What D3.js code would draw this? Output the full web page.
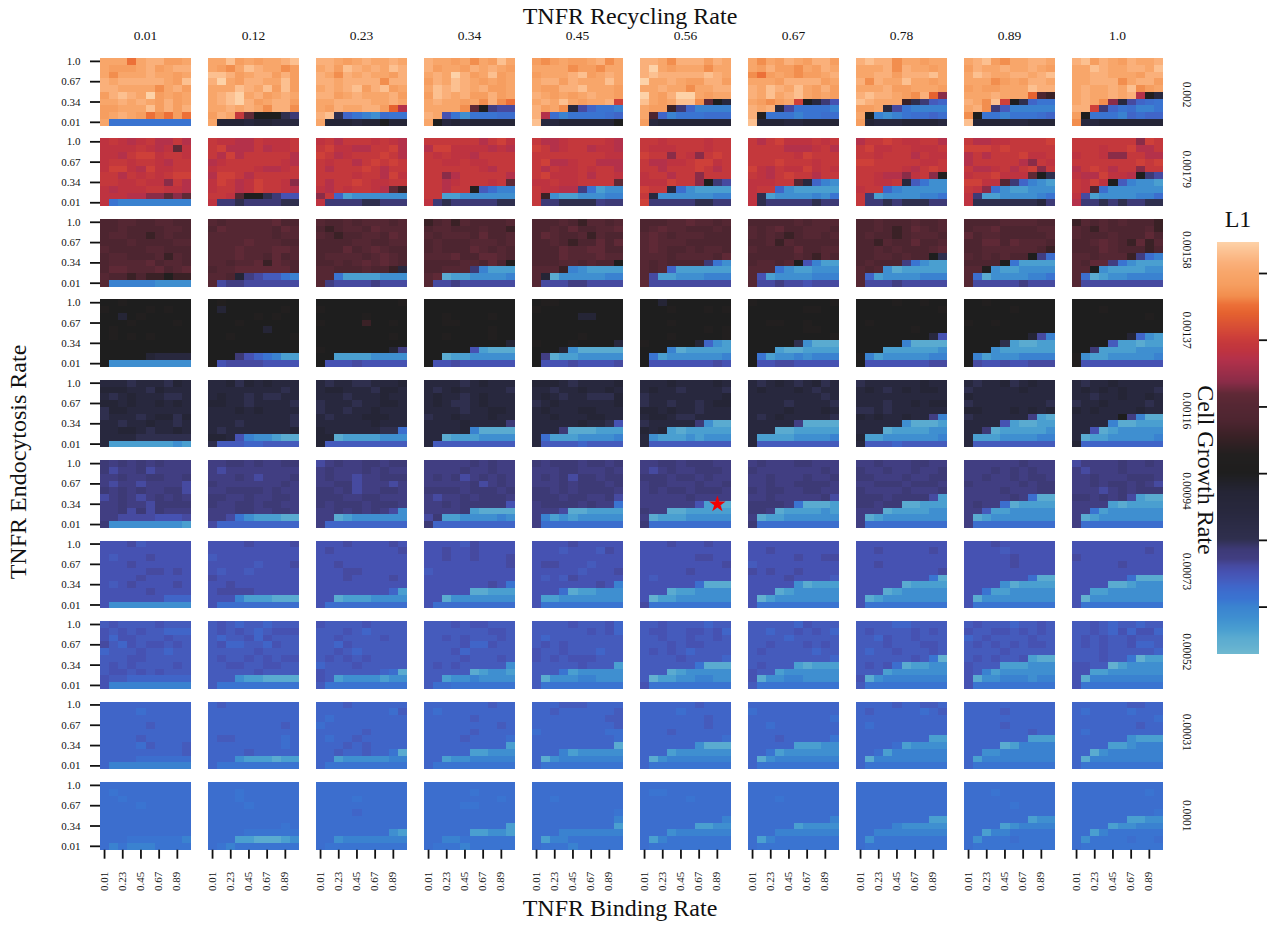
<!DOCTYPE html>
<html><head><meta charset="utf-8">
<script src="https://cdn.jsdelivr.net/npm/d3@7"></script>
<style>html,body{margin:0;background:#fff}svg{display:block}text{font-family:"Liberation Serif","Times New Roman",serif;fill:#111}</style>
</head><body><svg id="c" width="1267" height="927"></svg>
<script>
const recyclingRates=["0.01","0.12","0.23","0.34","0.45","0.56","0.67","0.78","0.89","1.0"];
const endocytosisRates=["0.002","0.00179","0.00158","0.00137","0.00116","0.00094","0.00073","0.00052","0.00031","0.0001"];
const yTickLabels=["1.0","0.67","0.34","0.01"], yTickCells=[0,3,6,9];
const xTickLabels=["0.01","0.23","0.45","0.67","0.89"], xTickCells=[0,2,4,6,8];
const bestFit={recycling:5,endocytosis:5,binding:8,row:6};
// Each cell is one base-36 colour level (0 = pale blue ... h = black ... z = pale peach), top row first.
const growthA=[
"wwwtwxxvvw wvvvwxvwxx wuwwwxwwvw xwxxxxxwvy xxwwwwuwxv vxyxwzvwvw wwxwxwvxvw vvwwwyvxvx vwxwvtutvt w666666666",
"wwyvwvwwxy wvuwyxwwuv yyxvwxxvxv xzwvxxwwyv wwwyxwyvyv wxyzwxvwxw wxyzxvwxxv wwxwxwuxxu vxwqmhhhed wgggfggfff",
"xxwvwxwwxw wxvyxwxwyx xwuxwxwwvx xxwxxxxuxx wxwxyvxyvw xxvwxwwwxv wwxxxxwwxw wvxwwxxvso xye8654766 wgggfgghgg",
"xwwvwuwvyw xvwwvxwxwv wxwzxvwyvw vxwyxwvwvw wyxyxwxvvw vyxwxvvxvw wxwwvwuxut wwwwumhcbb xwa6466677 whfgfggggg",
"vuvwvvwxuw wwwwuvvuww vwwwxyvwxw wxxvxwwwyw wvvxxywwwv xwvwvwxwwv wxwywvwwxr xvwufb8665 xo75666678 yffggggggh",
"xxwuxxxvxw xzwvwwwuww xyxxxxxyxw zwwxwvvxxv wwxwwuwwxx zwvxzzwvww ywvwyyumhf wvvjd85555 wk85666777 vfgggggggg",
"wuwvxwvxxv wvxvvuwvxw utvwvuvvwx wwwvxxxxvw xwyxwywvxv xwywxywvwv wvuvwrhfda xwxfb66665 xi66656677 ygggffgggg",
"xyxxuwwvww wwwxuxwwvw wwxxvxxxyw xuxwwywwvw wwwxvvwwwv xyxxwvuxsn yxwwwjed98 vvwfb65555 wh54567787 vgfffggggf",
"wxyvuwwxxw vxwwxwwxwv wyxwwxxwxy wwwuvwvxxw vwvvwwwyxx wwwxwwwskj xwuyrhe866 wxud955555 uh66566678 yggggffggg",
"xyvxwvxwwx wwyxwwxxwy wwxxwwwvxx wwxxxuwxxv wxwwxwyuvw wxwwxwxoif wxwunfb876 xxrd867556 vh66658788 uffggggggg"];
const growthB=[
"pqpopqooqo ppppqpopmp ppoqrrpqqp pqqpqqpoqq prrporppqq qqoqpqpqrr qqppqppnqo popppqqppo pppoonnmnm p655555555",
"qppooqpppq qroooqoppq qoroqqqqqo opqqqqqqpo pqqqqpoopq orrqoqqqqq prqoprqqpn pqqoprqqpo qqplhhedaa pddeddddee",
"pqoqqqpqpo qrppooqqro rqopqqqrqo qpqqoqrqrq qoqqqrqoqq qqqqpqqorp qoqqrqppqq poqpqqpomj nq83444444 pddddeeddd",
"qqqqqqoqrp orrppppopo qpqppoqqqq qqppqppqqq qqqqqqpoqq qqnoqqqqqo qqopqqqpqm qqoqqi9755 qq33444444 pdedddddee",
"qoopqqqqpo rqopqqoppo qqqqqqqqpp qroopqqooo qoqppqpqqo qrpppqoqqp ppqppqqqqm qppooc6344 qj43344455 qddeeeecdd",
"qqpqqqqpqq qpppqqqpqq rqqnqpnqrq qooppqrrpq qqoqqqrqoq pqqoqqnqqq ppprqqnhdb rqqf743333 qf44444455 rdddddeedd",
"qoqrpppqpq qqqqooopqo qqqqqprqqq qqqrqqqpqq rpoqpprpqp qpoqrqqoqq pppqqlf854 pqq8433333 pe34444546 pedddddedd",
"oqqrqppqqo qrppqqpppq qqpqqqoqpp rrqqqqqppq qqqqqpoqrq qqpoonpqni qqppqf9644 pqq8544444 qd34444556 qddedeeedd",
"qooppqqqqr rrrqrqqqqq oqoqqqrppq oqqqqqonqp qoopqoqrnq pqqrpppmhe rrppld8543 qpn7433444 pd33444456 peeeeeeefd",
"qqqqqqqnrq qqqpqqrooq pqqpnnqqoo qqqqqqqrqr oqrqoqqnqq poorppohdb qprph95443 qpk7444444 pb34444557 oddededdee"];
const growthC=[
"kkllkkllkk kklkkkkllk kllkkjklkk kkklkkkkll lkkkkllkkk kllkkkljlk kllllmkllk kmmlllmklm lkkjkjjijj l555554444",
"lklllllmkk kmlllllkml lllllllkll llllmlllkk lllmlllmml lllmllkmkl llkllmjmlk kllmmmmmmk llkgcb9965 lbccbbbbbb",
"lkklklllkl kjkllkmlll lkjkkllkml kkkkllkkll kkkmklmlkk kllllklmlk kklklmlmlk llkkklkkjf ll63333444 lcbbbbcbbb",
"jkljlkkkkl kllkkklkkj lklllkmkkl klkkklllkl klkkkmlklk lllmkkmmlk kkkkllkmki kkllld5333 lm23344445 lbbcbbbbbb",
"kkklkjllkl kklkmkkllm kmlkkljlkk kklkjkkmkm kkkmllmmkk kkkmlllmll kkkllklkkh lllj543333 lg24444455 lbbbccbbbb",
"kkkllmllkl klmllkkklk lmlklllkkk lmlllkkkkk lmlkklkllk lllkllllkm lklkkkkd64 lkl8333333 lb33444555 mbbbbbbbbb",
"kkkkklklll lklmkklllk lklkjkllkl kkljlkkkkk lkkkkmkkll kkkkklkjlk kllklha533 lll6433444 la34444555 lbbcbbabbb",
"kklkkklkkl kklkjkmlkl klkkjklllk kkjlkkmkkl kklklkkklm kkllklkkhe klkkkc6433 lkl4233333 l834444555 lbbbcbbbbb",
"kkkkllllkk kllmkkkkll mkllkkkkkl kkmmkmlllk kkllllllkj lklklkkhc7 kkkkh63333 lli4334444 l724444556 lbbbbbcbbb",
"jlklklkkkj lkjlkkkklj lkkklkkkmk kklmlkjmjl kkkmlkkkjk llkllljc75 lkmmc64333 llh4333344 l723445555 lbbbbbbbbb"];
const growthD=[
"hhihhhhhhh ihhhhihihh hhghihhhhh hhhihhhhih hihhhhhhhh hihihihhhh hhhhhhhhhh hhhhhhhhhh hhhhhgffff h444444444",
"hihhhhhhhh hghhhhhhih hhhhhihihh hhhihhhhhh hhhhhhghhh hhihhhhhhi hhhhhhhhhh hhhhhhhhhh hhhda86533 iabbbbaaaa",
"hhhhhhhhhi ihhhhhhhhh hhhhhihhhh ihhhhjhhih hhhhhhhhhh hhhhhhhhih hhhhhhhhhh ihhhhhhhgc hh33334444 haaabaaaaa",
"hhhhhhhhhh hhhhhhhhhh hhihhhhihh hhiihhhhhh hhhhhhhihh hhihhhhihh hhhhhhhhhg hhhhha3222 hh23344444 haabaaaaaa",
"hiihhhhhhh ihhhhhhhhh hhhhhgghhh hhhhhhhhhh hhhhhhhhhh hhhhhihhhh ihhhihhhhf hhhg422222 hc23344444 haaabaaaab",
"hhghhhhhhh hhhihhhihi hhhhhhhhhh hhhihhhhhh hhhhhhhihi hhhihhhhhi ihhhhhg843 hhh5233333 h634444445 haaaaaaaba",
"ihhhhhhhhi hhhhhhiihh hhhhhhhhhh hhiihhihhh hhhhhhiihh hhhhhhhhhi hhhhhe4222 hhh3223333 h634454555 haabbaaaaa",
"hhhhihhihh hhhhhhhhhi hhhhhhhhhh hihhhhhhhh hhhhhhihhh hhhhhhhhfa hhhhh52222 hhh3333334 i534444455 haaaaaaabb",
"hhihhhhhhh hhhhhihhhh hhhhhhhhhh ihhihhhhhh hhhhhhhhhh hhhhhhhgb5 hhhhe32233 hhh4333333 h534445555 hbaabaabbb",
"hhhhhhhhhh hhhihhhhhh hhhhhhhhih hhhhhhhhhh hhhhhhhhhh hhhhhhg843 hhhh933233 hhd3333444 i433444445 iaaaaaaaaa"];
const growthE=[
"fffefffegf gggffegfff fefgfffeef ggfgffgfgf eggfffffff efffefggeg ffeffgffef ffggfeffgf ffffeeeeee f333333343",
"ffgegfgfff ffffffffef fgffefeeff ggffeffffe fffgfgffff fffffffffe fffefffffe fefffffffg ggfa544322 e999889999",
"feffeefffg fggfffeggf fffefffgff efffeffggf effeffgfff fefffgggff ffffffgfff gffffffee7 gg23333444 g999999999",
"ffffefgfff fefgfffffe fgffefgfff fgfeefgfff ffffeffggf effgfffgff ffffgffffd ffffg52222 ff23334444 f999999999",
"gggfeffffg ffeffgffgf fgfeffeeeg efgffffffg fgfffggfff ffgfffggff fffffgffea fffd222333 f733344445 f999989999",
"fffgffffgf fgffeffffe effffffffg effeffefgg ggfgffefff fggfeeffff efffffd422 gfg3233333 f433343444 f999999999",
"fefgfefgef fgfffgfeff ffffffffef ffffeffffe ffffgfffgf fefgfffffe fffffc2222 fff2233333 f333344445 f999999999",
"effffffgff fgfefgfggf ffffffffff fffeffgfgg eefeffffff gfgffgffc5 fffff42223 fff2333344 g334444445 f999899999",
"feffgefgff efffffgfff gfffffffff effffffffe ggfffgfgfg effffffc32 ffffa32233 ffd2333334 f333444455 f999999999",
"feffgfffff fgfgfgfffe ffeffgffgf effgffffef gfgffffgff fffffhc522 ffff522333 ffa2344444 f233444445 g888888888"];
const growthF=[
"dcdcdcdccc dbccdbcccc ccdccddccd cbccbccccb dcdcdccddb bcdcbcdcdc ccdccbdddd ccdbdbdccc ccbbbbaaab d444444443",
"ccddcdccdd cbcccccccc cccdcbcccd dcccccccdc ccddddcdcc ddccdccddc dccddcddcc cccddccddc ccb6433322 b888888888",
"bcdccddcdd cdcccdcdcc cdccbccddd ccddbcccbc ddcdbccddc dddccddccc dcdddcdddc ccdcdcdcb4 cc23444444 c888888888",
"cccccdcdcc ccccdccdcc cdcdbcdcdc cccccdbcdc ddddcdddcd cbccdcdddc ccdcddddda ccccd32222 bd33444454 d888888888",
"dcdddcddcd cccddcccdc cdcdbddcdd cccdcdddcd ddcdcddddc dddcddccdb cddddcdcc6 cccb223333 c534344444 c777777777",
"ccddcdddcc cbcdccdddc dddcddcdcc cddcccdccd cdcddcdddc cccccdcccc cccccca332 dcc2233333 c233344444 d777777777",
"cdcccddccc dcccccccdc ccdcccdccd ccdccddddc dcddccddcc ccdcccccdb ddddc62223 ddc2333343 c233444444 d777777777",
"ccdcccddcc dccdccdccd ddcccdccdd ccdddcdddc dccccdcccd dddcddddb3 ddcdd22333 ccc2333344 c234444444 c777777777",
"ccccccdccc cccdcdcdcc ccdccdcddc dcccccdcdd ccccdcccdd cccccdc722 cdcc723333 cc93344444 c234444444 c777777777",
"bccccdccdc cbcccdcccc ccdcccdddc ccdcddcdcb cccbcdcddd ddcdcdb322 cccc323333 cc63444444 c234444444 c777777777"];
const growthG=[
"aaab9aaaaa aaaaaaaaaa a9aaabaaaa aaabaaaaaa aaaaabbaba aaaabaaaaa a9abaaaaba aaaaabaaaa aaaaaaa888 a444444444",
"aaaabaaaab aaaaaaaaaa 9aaaaaaaaa aaaaa9aaab a9aa9aaaaa baaaaaaaaa aabaaaaaaa abbbbaaaaa aaa5333222 a777777777",
"aaabaaaaba abaaaaaaab aaaaaaaaaa aabaaaaaaa aaabbaaaaa aaabaaaaba aaaaaaaaaa aaaaaaaa83 aa23334444 a777777777",
"aaaa9baaaa aabaabaaaa aabaabaaab aaaaaaaaab 9aaaaaaaaa aaaaaaaaaa aaaaaaaba6 aaaaa22333 aa24444444 a777777777",
"aaaabaaaaa aaa9aaa9ba aaaaaaaaaa abbaaa9aaa aaaaa9aaab a9a9baaaaa aaaaaaaba5 aaa7233444 a334444444 a666666666",
"aaabaaabaa aaaaaaaaaa aaaaaabbaa aaaaaaaaab aaaaabaaaa a9aaaaaaaa aaaaaa7222 aaa2334444 a133444444 b666666666",
"aaaaaaaaaa aabaaaaaaa aaaaabaabb 9aaaaaaaaa babaabaaaa aaaabaaaa9 aaaaa42333 aaa2344444 a134444444 a666666666",
"aaaaaaaaaa aabaaaaaba aaaaaaaaaa aabaaaaaaa aaaaaaaaab aaaaaaaa62 aaaaa23333 aaa2344444 a234444444 a666666666",
"aaabaaaaaa aaaa9aaaaa aaaaabaaaa aaaaabaaaa aaaaaaaaaa aaaaaaa722 aaaa423333 aa63344444 a244444444 a666666666",
"aaaaaaaaaa aaaaaaaaba baaaaaaaaa aaaaabaaaa aaaaaaaaaa aaaaaa7222 aaaa223444 aa33444444 a144444444 a666666666"];
const growthH=[
"9a9999a999 a9a9a99888 a8aa999a99 b98a9aa9a9 8999a99899 999aa99999 9a9a9999a9 9aa9a9a999 a998888888 a555555555",
"9a98998999 9a9a989aaa 9899a8a999 9a88998a99 99999a9999 9a99a9a9aa 99aa99aa99 99999a9999 9994332222 9666666666",
"a9999a9999 999a989999 99a9999a99 998a999999 99a9899999 9a9a9a9999 8999a99999 a999999872 a934444344 9666666666",
"999a9aa999 9999999aa9 99a9a999a9 9999a88a99 999a899999 9999a999a9 9a9a999994 9999923443 9934454444 9776666666",
"9999a999a8 999999a9a8 9899999999 9a9a999999 a99a999899 a9a9aaa999 99999a9993 9996344444 9244455444 9666666666",
"99a9999899 9aa99aa9a8 99a99a99a9 999a9aa999 9a9a989999 9999a99998 9999996222 9992344444 9133445544 a666666666",
"999998a999 99899a9a98 9999899999 99a999a9a9 9a99999899 9999999998 9a99932333 a993444444 a244554444 9666666666",
"9999889999 9a9999a9a9 998a99a999 999a999aa9 9899a999a9 999999a961 9a9a723344 9993444444 a245555555 9666666666",
"9a999899a9 a99aa9a9a9 89a9999a99 9a9a9a9aa9 9999a99999 9a9a99a322 a999333444 a953444444 a244555455 a666666666",
"99a9899899 99a98a8aa8 9a9a99a999 9a9a99a889 999a999998 999a996133 aa99134444 aa33444444 a255555555 a666666666"];
const growthI=[
"8888888888 8888788888 8888888888 8888898888 8888888888 8888988888 8888798889 8888888889 8888777777 8555555555",
"8988888888 8888888888 8888888888 8888888898 8888888888 8998888878 8888888878 8888988888 8884333233 8666666666",
"8889888888 8888888879 8788888888 7888888888 8888898888 8788988888 8889898888 8898898862 8834444455 8666666666",
"8888888988 8788888888 8888898888 8888888898 8888898888 8888988887 8888888883 8888833444 8834455555 8666666666",
"8889998888 8898888889 8888888899 8888888889 7888888877 8888888887 8888888882 8885344444 8245555555 8666666666",
"8888889888 8888788888 8888888988 8888888988 8889888888 8888888887 8888884222 8883444444 8245555555 8666666666",
"8888888888 7888888888 8888888887 8878888888 8888888888 8889888886 8888833344 8863444444 8245555555 8666666666",
"8888988998 8988888789 8888888888 8788888888 8888888888 8888888833 8888734444 8873555555 8255555555 8666666666",
"8888888888 8888988888 8888888888 8888988888 8888888988 8888888333 8888235555 8844555555 8355555555 8666666666",
"8888889988 8788887888 8888888887 8888888988 8788888888 8888884333 8888334555 8824555555 8255555555 8666666666"];
const growthJ=[
"7777777777 7677777777 7767777777 7777677777 7777777777 7777777777 7777777777 7777777777 7776666665 7565556666",
"7777777777 7776777777 7776777777 7777677777 7777777777 7777777777 7777777767 7777666666 7773322234 7656666666",
"7777777777 7777777777 7777677777 7777777777 7777877777 7777777777 7777777777 7777777743 7745555555 7666666666",
"7777777777 7777767777 7777777767 7777667777 7777777777 7777777777 7777777773 7777733443 7755666666 7666566666",
"7777777777 7777777777 7767777777 7777777777 7777777776 7777777775 7777777773 7775555555 7355666666 7666566666",
"7777777777 7667777777 7777767777 7777777777 7777777777 7777777775 7777773344 7774555555 7356666666 7666666666",
"7777777777 7777777777 7776777777 7777777777 7777777777 7777777775 7777734444 7775555555 7356666666 7666666666",
"7777777777 7777777777 7777777777 7777777777 7777777777 7777777733 7777544444 7755555555 7466666666 7666666666",
"7777777777 7776777777 7777777777 7777767777 7777777777 7777777344 7777345555 7735566666 7466676666 7666666666",
"7777777777 7777777767 7777777777 7777777777 7777777776 7777773344 7777344555 7735666666 7466667667 7666666666"];
const growthGrid=[growthA,growthB,growthC,growthD,growthE,growthF,growthG,growthH,growthI,growthJ];
const paletteColours=["#6FB8D0","#63B0D0","#5AABD0","#4A9FD0","#3F8FD0","#3A82D0","#3A74D1","#3C6ECE","#4065C8","#455BBC","#4652B2","#464AA0","#413E82","#3D3A76","#2F2F4E","#28283E","#252536","#1E1E1E","#221F1F","#3A2126","#4D2530","#552733","#5F2936","#8A2C48","#B4314A","#BE3340","#C4383C","#CE4039","#E5622F","#EC7038","#F28E4E","#F69E60","#F8A66A","#FAB07A","#FCC090","#FDD2A8"];
const barLevels=[0,3,5,9,12,14,15,17,19,21,23,24,27,28,30,32,35];
const barPixels=[654,630,606,579,559,539,512,473,436,406,382,359,336,313,296,273,242];
const barTicks=[0,1,2,3,4,5];

const svg=d3.select("#c");
const W=91,H=67.7;
const panelX=d3.scaleLinear().domain([0,9]).range([100,1072]);
const panelY=d3.scaleLinear().domain([0,9]).range([58,782]);
const cx=d3.scaleBand().domain(d3.range(10)).range([0,W]);
const cy=d3.scaleBand().domain(d3.range(10)).range([0,H]);
const colour=d3.scaleLinear().domain(d3.range(36)).range(paletteColours).interpolate(d3.interpolateRgb);
const level=ch=>parseInt(ch,36);

growthGrid.forEach((rowPanels,r)=>rowPanels.forEach((panel,k)=>{
  const g=svg.append("g").attr("transform",`translate(${panelX(k)},${panelY(r)})`);
  const cells=panel.split(" ").flatMap((s,i)=>s.split("").map((ch,j)=>({i,j,v:level(ch)})));
  g.selectAll("rect").data(cells).join("rect")
    .attr("x",d=>cx(d.j)).attr("y",d=>cy(d.i))
    .attr("width",cx.bandwidth()).attr("height",cy.bandwidth())
    .attr("shape-rendering","crispEdges")
    .attr("fill",d=>colour(d.v));
  if(k===0){
    const ay=g.append("g").call(d3.axisLeft(cy).tickValues(yTickCells).tickSize(10).tickPadding(9.5).tickFormat((d,i)=>yTickLabels[i]));
    ay.select(".domain").remove();
    ay.selectAll("line").attr("stroke","#111").attr("stroke-width",1.8);
    ay.selectAll("text").attr("font-size",11).attr("fill","#111").attr("font-family","Liberation Serif");
  }
  if(r===9){
    const ax=g.append("g").attr("transform",`translate(0,${H})`).call(d3.axisBottom(cx).tickValues(xTickCells).tickSize(9).tickFormat((d,i)=>xTickLabels[i]));
    ax.select(".domain").remove();
    ax.selectAll("line").attr("stroke","#111").attr("stroke-width",1.8);
    ax.selectAll("text").attr("font-size",11).attr("fill","#111").attr("font-family","Liberation Serif")
      .attr("text-anchor","end").attr("dy",0).attr("y",null).attr("x",null)
      .attr("transform","translate(3,22) rotate(-90)");
  }
  if(r===bestFit.endocytosis&&k===bestFit.recycling){
    g.append("path").attr("d",d3.symbol(d3.symbolStar,85))
     .attr("transform",`translate(${cx(bestFit.binding)+cx.bandwidth()/2},${cy(bestFit.row)+cy.bandwidth()/2})`)
     .attr("fill","#f00000");
  }
}));

recyclingRates.forEach((t,k)=>svg.append("text").attr("x",panelX(k)+W/2).attr("y",40).attr("text-anchor","middle").attr("font-size",13.5).text(t));
endocytosisRates.forEach((t,r)=>svg.append("text").attr("transform",`translate(1182.5,${panelY(r)+49.5}) rotate(90)`).attr("text-anchor","end").attr("font-size",11.5).text(t));

svg.append("text").attr("x",630).attr("y",24).attr("text-anchor","middle").attr("font-size",24).text("TNFR Recycling Rate");
svg.append("text").attr("x",620).attr("y",916).attr("text-anchor","middle").attr("font-size",24).text("TNFR Binding Rate");
svg.append("text").attr("transform","translate(26,462) rotate(-90)").attr("text-anchor","middle").attr("font-size",24).text("TNFR Endocytosis Rate");
svg.append("text").attr("transform","translate(1198,470) rotate(90)").attr("text-anchor","middle").attr("font-size",24).text("Cell Growth Rate");
svg.append("text").attr("x",1238).attr("y",227).attr("text-anchor","middle").attr("font-size",24).text("L1");

// colour bar
const barLevel=d3.scaleLinear().domain(barPixels).range(barLevels);
const barPx=d3.range(242,654);
svg.append("g").selectAll("rect").data(barPx).join("rect")
  .attr("x",1217).attr("y",d=>d).attr("width",42).attr("height",1)
  .attr("shape-rendering","crispEdges")
  .attr("fill",d=>colour(barLevel(d+0.5)));
const barAxisScale=d3.scaleLinear().domain([0,5]).range([606.6,273]);
const barAxis=svg.append("g").attr("transform","translate(1259,0)").call(d3.axisRight(barAxisScale).tickValues(barTicks).tickSize(8).tickFormat(""));
barAxis.select(".domain").remove();
barAxis.selectAll("line").attr("stroke","#111").attr("stroke-width",1.8);
</script></body></html>
